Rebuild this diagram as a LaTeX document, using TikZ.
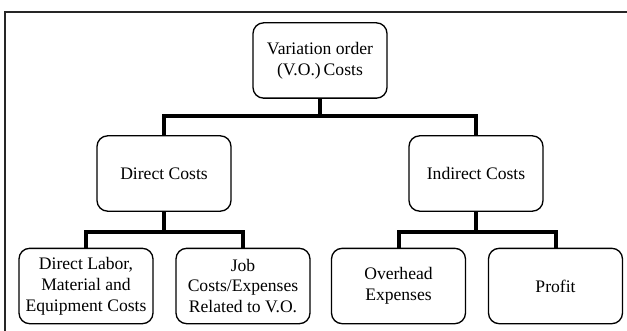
\documentclass[tikz,border=0pt]{standalone}
\usepackage{fontspec}
\setmainfont{Liberation Serif}
\begin{document}
\begin{tikzpicture}[x=0.75pt,y=-0.75pt,
  costbox/.style={draw=black,line width=1pt,rounded corners=8pt,minimum width=100.5pt,minimum height=56.5pt,align=center,inner sep=1pt,font=\fontsize{13.2}{15.6}\selectfont},
  conn/.style={line width=3pt,line join=miter},
  frameline/.style={line width=1.3pt,draw=black!85}]
\useasboundingbox (0,0) rectangle (627,331);
\draw[frameline] (5,331) -- (5,12) -- (627,12);
\node[costbox] (top) at (320,60.5) {Variation order\\(V.O.)\,Costs};
\node[costbox] (direct) at (164,173.5) {Direct Costs};
\node[costbox] (indirect) at (476,173.5) {Indirect Costs};
\node[costbox] (labor) at (86,286) {Direct Labor,\\Material and\\Equipment Costs};
\node[costbox] (job) at (243,286) {Job\\Costs/Expenses\\Related to V.O.};
\node[costbox] (overhead) at (398.5,286) {Overhead\\Expenses};
\node[costbox] (profit) at (555.5,286) {Profit};
\coordinate (j1) at (320,116);
\coordinate (j2) at (164,232);
\coordinate (j3) at (476,232);
\draw[conn] (top.south) -- (j1) -| (direct.north);
\draw[conn] (j1) -| (indirect.north);
\draw[conn] (direct.south) -- (j2) -| (labor.north);
\draw[conn] (j2) -| (job.north);
\draw[conn] (indirect.south) -- (j3) -| (overhead.north);
\draw[conn] (j3) -| (profit.north);
\end{tikzpicture}
\end{document}
